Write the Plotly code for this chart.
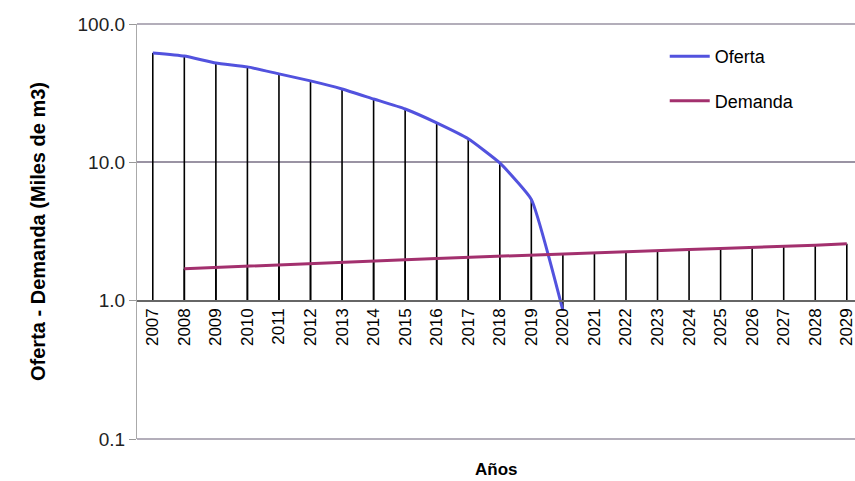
import plotly.graph_objects as go

years = [str(y) for y in range(2007, 2030)]
oferta_years = [str(y) for y in range(2007, 2021)]
oferta = [61.8, 58.7, 52.3, 49.0, 43.6, 38.8, 33.9, 28.7, 24.3, 19.3, 14.8, 9.9, 5.4, 0.85]
demanda_years = [str(y) for y in range(2008, 2030)]
demanda = [1.70, 1.74, 1.78, 1.82, 1.86, 1.90, 1.94, 1.98, 2.02, 2.06, 2.10, 2.14, 2.18,
           2.22, 2.26, 2.30, 2.34, 2.38, 2.42, 2.47, 2.52, 2.58]
y_ticks = [0.1, 1, 10, 100]
y_ticktext = ["0.1", "1.0", "10.0", "100.0"]

# drop lines from each point to the category axis (which crosses at 1.0)
dx, dy = [], []
for xs, vs in ((oferta_years, oferta), (demanda_years, demanda)):
    for x, v in zip(xs, vs):
        dx += [x, x, None]
        dy += [1.0, v, None]

grid_color = "#9a93a3"

fig = go.Figure()
fig.add_trace(go.Scatter(x=dx, y=dy, mode="lines", line=dict(color="black", width=1.6),
                         showlegend=False, hoverinfo="skip"))
fig.add_trace(go.Scatter(x=oferta_years, y=oferta, mode="lines", name="Oferta",
                         line=dict(color="#5252de", width=3, shape="spline", smoothing=0.4),
                         legendgroup="a"))
fig.add_trace(go.Scatter(x=demanda_years, y=demanda, mode="lines", name="Demanda",
                         line=dict(color="#a3306e", width=3), legendgroup="b"))

fig.update_layout(
    width=855, height=481,
    margin=dict(l=137, r=0, t=24, b=42),
    paper_bgcolor="white", plot_bgcolor="white",
    font=dict(family="Liberation Sans, Arial, sans-serif", color="black"),
    xaxis=dict(type="category", categoryorder="array", categoryarray=years,
               range=[-0.5, 22.26], anchor="free", position=1/3,
               tickangle=-90, tickfont=dict(size=17), showgrid=False,
               showline=True, linecolor="#666666", linewidth=1.5, ticks=""),
    yaxis=dict(type="log", range=[-1, 2], tickvals=y_ticks, ticktext=y_ticktext,
               tickfont=dict(size=19, color="#222222"), showgrid=True, gridcolor=grid_color,
               gridwidth=1.5, showline=True, linecolor="#aaaaaa", linewidth=1.2,
               ticks="outside", ticklen=7, tickcolor="#999999",
               title=dict(text="<b>Oferta - Demanda (Miles de m3)</b>", font=dict(size=20),
                          standoff=26)),
    legend=dict(x=0.735, y=0.966, xanchor="left", yanchor="top", font=dict(size=18),
                bgcolor="rgba(0,0,0,0)", tracegroupgap=18, itemwidth=40),
    shapes=[dict(type="line", xref="paper", yref="paper", x0=0, x1=1, y0=yy, y1=yy,
                 line=dict(color=grid_color, width=1.5), layer="below") for yy in (0, 1)],
    annotations=[dict(text="<b>Años</b>", x=0.5, y=-0.074, xref="paper", yref="paper",
                      xanchor="center", yanchor="middle", showarrow=False, font=dict(size=17))],
)

fig.write_html("out.html")
